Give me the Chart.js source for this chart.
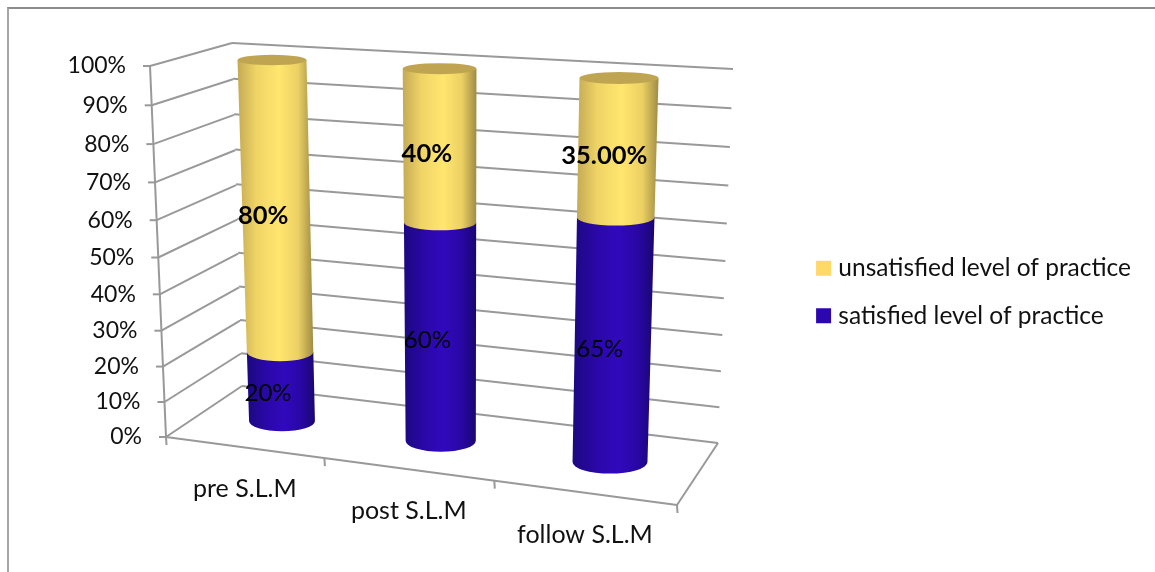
<!DOCTYPE html>
<html>
<head>
<meta charset="utf-8">
<title>level of practice</title>
<style>
html,body{margin:0;padding:0;background:#fff;overflow:hidden;}
#frame{position:absolute;left:7px;top:7px;right:0;bottom:0;border-left:2px solid #a6a6a6;border-top:2px solid #8c8c8c;}
#grafico{position:absolute;left:0;top:0;}
</style>
<script src="https://cdn.jsdelivr.net/npm/chart.js@4"></script>
</head>
<body>
<div id="frame"></div>
<canvas id="grafico" width="1155" height="572"></canvas>
<script>
const categorias=["pre S.L.M","post S.L.M","follow S.L.M"];
const satisfied=[20,60,65];
const unsatisfied=[80,40,35];
const satisfiedLabels=["20%","60%","65%"];
const unsatisfiedLabels=["80%","40%","35.00%"];

const fonte="Lato, sans-serif";
const corGrelha="#999999";

// maps the unit square onto a four sided shape, with perspective
function quadMap(p0,p1,p2,p3){
const dx1=p1[0]-p2[0], dx2=p3[0]-p2[0], sx=p0[0]-p1[0]+p2[0]-p3[0];
const dy1=p1[1]-p2[1], dy2=p3[1]-p2[1], sy=p0[1]-p1[1]+p2[1]-p3[1];
const den=dx1*dy2-dx2*dy1;
const g=(sx*dy2-dx2*sy)/den, h=(dx1*sy-sx*dy1)/den;
const a=p1[0]-p0[0]+g*p1[0], b=p3[0]-p0[0]+h*p3[0];
const d=p1[1]-p0[1]+g*p1[1], e=p3[1]-p0[1]+h*p3[1];
return (s,t)=>{
const w=g*s+h*t+1;
return [(a*s+b*t+p0[0])/w,(d*s+e*t+p0[1])/w];
};
}

// the 3D box around the cylinders
const frenteBaixo=[166,437], frenteCima=[150,66], frenteDir=[677,505];
const fundoBaixo=[242,386], fundoCima=[232,43], fundoDirCima=[733,69], fundoDirBaixo=[718,443];

const paredeEsq=quadMap(frenteBaixo,fundoBaixo,fundoCima,frenteCima);
const paredeFundo=quadMap(fundoBaixo,fundoDirBaixo,fundoDirCima,fundoCima);
const chao=quadMap(frenteBaixo,frenteDir,fundoDirBaixo,fundoBaixo);
// plane through the axes of the first and last cylinder
const planoEixos=quadMap([282,421],[610,462],[619,78],[272,60]);

// u is the position across the category scale, v the height on the value scale (both 0..1)
function noPlano(u,v){
return planoEixos((u-1/6)*1.5,v);
}

function linha(ctx,a,b){
ctx.beginPath();
ctx.moveTo(a[0],a[1]);
ctx.lineTo(b[0],b[1]);
ctx.stroke();
}

function desenharCaixa(chart,ctx){
const yScale=chart.scales.y;
const xScale=chart.scales.x;
ctx.strokeStyle=corGrelha;
ctx.lineWidth=2;
ctx.fillStyle="#111";
ctx.font="23px "+fonte;

yScale.ticks.forEach(tick=>{
const v=tick.value/100;
const p=paredeEsq(0,v);
linha(ctx,[p[0]-7,p[1]],p);
linha(ctx,p,paredeEsq(1,v));
linha(ctx,paredeFundo(0,v),paredeFundo(1,v));
ctx.textAlign="right";
ctx.textBaseline="middle";
ctx.fillText(tick.label,p[0]-24,p[1]);
});

linha(ctx,frenteCima,frenteBaixo);
linha(ctx,frenteBaixo,frenteDir);
linha(ctx,frenteDir,fundoDirBaixo);

// ticks between the categories along the front edge of the floor
const n=categorias.length;
for(let i=0;i<=n;i++){
const p=chao(i/n,0);
linha(ctx,p,[p[0]+0.5,p[1]+8]);
}

ctx.font="25px "+fonte;
categorias.forEach((c,i)=>{
const u=(xScale.getPixelForValue(i)-chart.chartArea.left)/chart.chartArea.width;
const p=chao(u,0);
ctx.textAlign="center";
ctx.textBaseline="middle";
ctx.fillText(c,p[0]+1,p[1]+42);
});
}

const gradientes=[
[[0,"#1d0880"],[0.3,"#2a08a8"],[0.55,"#3109bd"],[0.8,"#2807a4"],[1,"#1b0670"]],
[[0,"#c4aa55"],[0.25,"#efd466"],[0.55,"#ffe66e"],[0.8,"#ecd063"],[1,"#a08b45"]]
];
const corTampa="#bfa552";

function achatamento(v){
return 0.31-0.16*v;
}

// centre and half width of a cylinder section at height v
function secao(u,du,v){
const a=noPlano(u-du,v), b=noPlano(u+du,v);
return {c:noPlano(u,v),r:Math.hypot(b[0]-a[0],b[1]-a[1])/2,v:v};
}

function desenharCilindro(chart,ctx,bar,serie){
const area=chart.chartArea;
const u=(bar.x-area.left)/area.width;
const du=bar.width/area.width/2;
const topo=secao(u,du,(area.bottom-bar.y)/area.height);
const base=secao(u,du,(area.bottom-bar.base)/area.height);

const grad=ctx.createLinearGradient(Math.min(topo.c[0]-topo.r,base.c[0]-base.r),0,Math.max(topo.c[0]+topo.r,base.c[0]+base.r),0);
gradientes[serie].forEach(g=>grad.addColorStop(g[0],g[1]));

ctx.beginPath();
ctx.moveTo(topo.c[0]-topo.r,topo.c[1]);
ctx.lineTo(topo.c[0]+topo.r,topo.c[1]);
ctx.lineTo(base.c[0]+base.r,base.c[1]);
ctx.ellipse(base.c[0],base.c[1],base.r,base.r*achatamento(base.v),0,0,Math.PI,false);
ctx.closePath();
ctx.fillStyle=grad;
ctx.fill();

// only the top of the stack shows its lid
if(serie===chart.data.datasets.length-1){
ctx.beginPath();
ctx.ellipse(topo.c[0],topo.c[1],topo.r,topo.r*achatamento(topo.v),0,0,Math.PI*2,false);
ctx.fillStyle=corTampa;
ctx.fill();
}
}

function desenharRotulos(chart,ctx){
const area=chart.chartArea;
ctx.textAlign="center";
ctx.textBaseline="middle";
ctx.fillStyle="#000";
chart.data.datasets.forEach((ds,d)=>{
ctx.font=ds.rotuloFonte+" "+fonte;
chart.getDatasetMeta(d).data.forEach((bar,i)=>{
const u=(bar.x-area.left)/area.width;
const v=(area.bottom-(bar.y+bar.base)/2)/area.height;
const p=noPlano(u,v);
ctx.fillText(ds.rotulos[i],p[0]-13,p[1]+7);
});
});
}

const cilindros={
id:"cilindros",
beforeDatasetsDraw(chart){
const ctx=chart.ctx;
ctx.save();
desenharCaixa(chart,ctx);
chart.data.datasets.forEach((ds,d)=>{
chart.getDatasetMeta(d).data.forEach(bar=>desenharCilindro(chart,ctx,bar,d));
});
desenharRotulos(chart,ctx);
ctx.restore();
return false;
}
};

new Chart(document.getElementById("grafico"),{
type:"bar",
data:{
labels:categorias,
datasets:[
{label:"satisfied level of practice",data:satisfied,backgroundColor:"#2c07af",borderWidth:0,rotulos:satisfiedLabels,rotuloFonte:"24px"},
{label:"unsatisfied level of practice",data:unsatisfied,backgroundColor:"#ffd966",borderWidth:0,rotulos:unsatisfiedLabels,rotuloFonte:"bold 25.5px"}
]
},
options:{
responsive:false,
animation:false,
layout:{padding:{top:12,right:14}},
barPercentage:0.425,
categoryPercentage:1,
scales:{
x:{stacked:true,display:false},
y:{stacked:true,display:false,min:0,max:100,ticks:{stepSize:10,callback:v=>v+"%"}}
},
plugins:{
tooltip:{enabled:false},
legend:{
position:"right",
reverse:true,
labels:{
usePointStyle:true,
pointStyle:"rect",
boxWidth:5,
boxHeight:15,
padding:23,
color:"#111",
font:{family:fonte,size:24.5}
}
}
}
},
plugins:[cilindros]
});
</script>
</body>
</html>
